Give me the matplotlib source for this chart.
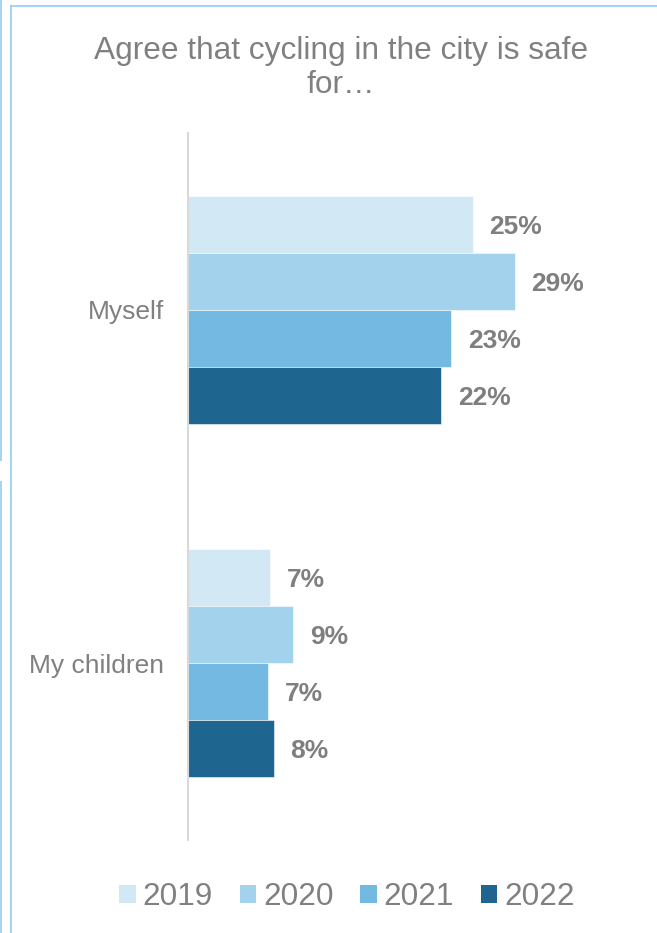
import matplotlib
matplotlib.use("Agg")
import matplotlib.pyplot as plt
from matplotlib.lines import Line2D
from matplotlib.patches import Patch
import numpy as np

# Data (share agreeing, %)
categories = ["Myself", "My children"]
years = ["2019", "2020", "2021", "2022"]
values = {
    "2019": [25.2, 7.3],
    "2020": [28.9, 9.3],
    "2021": [23.3, 7.1],
    "2022": [22.4, 7.6],
}
colors = ["#D2E8F5", "#A3D2EC", "#74B9E2", "#1E668F"]
title_lines = ["Agree that cycling in the city is safe", "for\u2026"]

plt.rcParams["font.family"] = ["Liberation Sans", "DejaVu Sans"]
grey = "#808080"

fig = plt.figure(figsize=(6.57, 9.33), dpi=100)
ax = fig.add_axes([188 / 657, 1 - 840 / 933, 452 / 657, 707 / 933])

y = np.arange(len(categories))
h = 0.1615
for i, yr in enumerate(years):
    pos = y + (i - 1.5) * h
    ax.barh(pos, values[yr], height=h, color=colors[i],
            edgecolor="white", linewidth=0.4)
    # value labels to the right of each bar
    for yy, v in zip(pos, values[yr]):
        ax.annotate(f"{v:.0f}%", (v, yy), xytext=(12, -1.8), textcoords="offset points",
                    ha="left", va="center", fontsize=19, fontweight="bold",
                    color="#7F7F7F")

ax.set_xlim(0, 40)
ax.set_ylim(1.5, -0.5)
ax.set_yticks(y)
ax.set_yticklabels(categories, fontsize=19, color=grey)
ax.tick_params(axis="y", length=0, pad=17)
ax.set_xticks([])
for s in ["top", "right", "bottom"]:
    ax.spines[s].set_visible(False)
ax.spines["left"].set_color("#D9D9D9")
ax.spines["left"].set_linewidth(1.5)

fig.text(341 / 657, 1 - 59 / 933, title_lines[0], ha="center", va="baseline",
         fontsize=22.8, color=grey)
fig.text(341 / 657, 1 - 93 / 933, title_lines[1], ha="center", va="baseline",
         fontsize=22.8, color=grey)

handles = [Patch(facecolor=c, edgecolor="none") for c in colors]
fig.legend(handles, years, loc="center", bbox_to_anchor=(347 / 657, 1 - 897 / 933),
           ncol=4, frameon=False, fontsize=22.7, labelcolor=grey,
           handlelength=0.51, handleheight=0.51, handletextpad=0.22,
           columnspacing=0.86, borderpad=0)

# light blue frame lines of the surrounding slide
frame = "#A8D4F0"
fig.add_artist(Line2D([1 / 657, 1 / 657], [1, 1 - 460 / 933], color=frame, lw=1.5))
fig.add_artist(Line2D([1 / 657, 1 / 657], [1 - 482 / 933, 0], color=frame, lw=1.5))
fig.add_artist(Line2D([11 / 657, 11 / 657], [1 - 6 / 933, 0], color=frame, lw=1.5))
fig.add_artist(Line2D([11 / 657, 1], [1 - 6 / 933, 1 - 6 / 933], color=frame, lw=1.5))

fig.savefig("out.png", dpi=100)
